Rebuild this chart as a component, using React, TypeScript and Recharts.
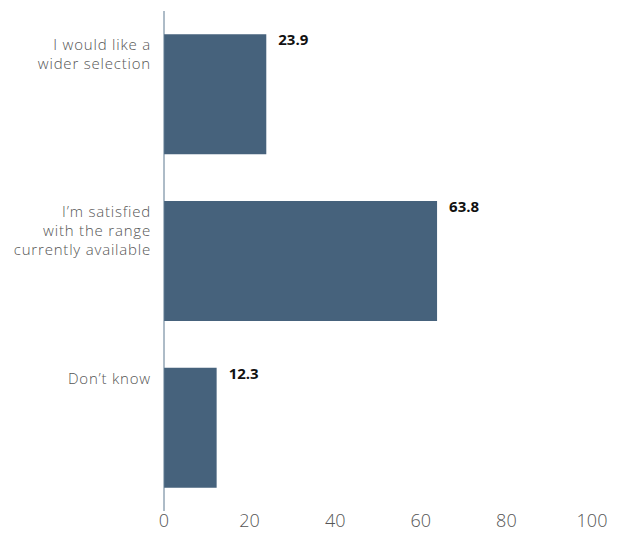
import { Bar, BarChart, LabelList, XAxis, YAxis } from "recharts"

// survey answers, percent of respondents
const answers = [
  "I would like a\nwider selection",
  "I’m satisfied\nwith the range\ncurrently available",
  "Don’t know",
]
const shares = [23.9, 63.8, 12.3]
const xTicks = [0, 20, 40, 60, 80, 100]

const data = answers.map((answer, i) => ({ answer, share: shares[i] }))

const BAR_COLOR = "#46627c"
const FONT = "'Open Sans', 'DejaVu Sans', sans-serif"

function AnswerTick(props: any) {
  const { x, y, payload } = props
  const lines = String(payload.value).split("\n")
  // labels sit at the top of each bar, not centred
  const top = y - 60 + 12
  const right = x - 5
  return (
    <text
      x={right}
      y={top}
      textAnchor="end"
      fill="#555"
      fontSize={15}
      letterSpacing={0.8}
      fontFamily={FONT}
      fontWeight={300}
    >
      {lines.map((line, i) => (
        <tspan key={i} x={right} y={top + i * 19} dominantBaseline="middle">
          {line}
        </tspan>
      ))}
    </text>
  )
}

function ValueLabel(props: any) {
  const { x, y, width, value } = props
  return (
    <text
      x={x + width + 12}
      y={y + 7}
      dominantBaseline="middle"
      fill="#111"
      fontSize={15}
      fontWeight={700}
      fontFamily={FONT}
    >
      {value}
    </text>
  )
}

export default function App() {
  return (
    <div style={{ position: "absolute", left: 0, top: 0, background: "#fff" }}>
      <BarChart
        width={617}
        height={534}
        data={data}
        layout="vertical"
        margin={{ top: 11, right: 25, bottom: 0, left: 0 }}
        barCategoryGap="14%"
      >
        <XAxis
          type="number"
          domain={[0, 100]}
          ticks={xTicks}
          axisLine={false}
          tickLine={false}
          height={23}
          tick={{ fill: "#555", fontSize: 18, fontFamily: FONT, fontWeight: 300, dy: -3 }}
          tickMargin={0}
          interval={0}
        />
        <YAxis
          type="category"
          dataKey="answer"
          width={164}
          axisLine={{ stroke: "#5d7890", strokeWidth: 1 }}
          tickLine={false}
          tick={<AnswerTick />}
          interval={0}
        />
        <Bar dataKey="share" fill={BAR_COLOR} isAnimationActive={false}>
          <LabelList dataKey="share" content={<ValueLabel />} />
        </Bar>
      </BarChart>
    </div>
  )
}
